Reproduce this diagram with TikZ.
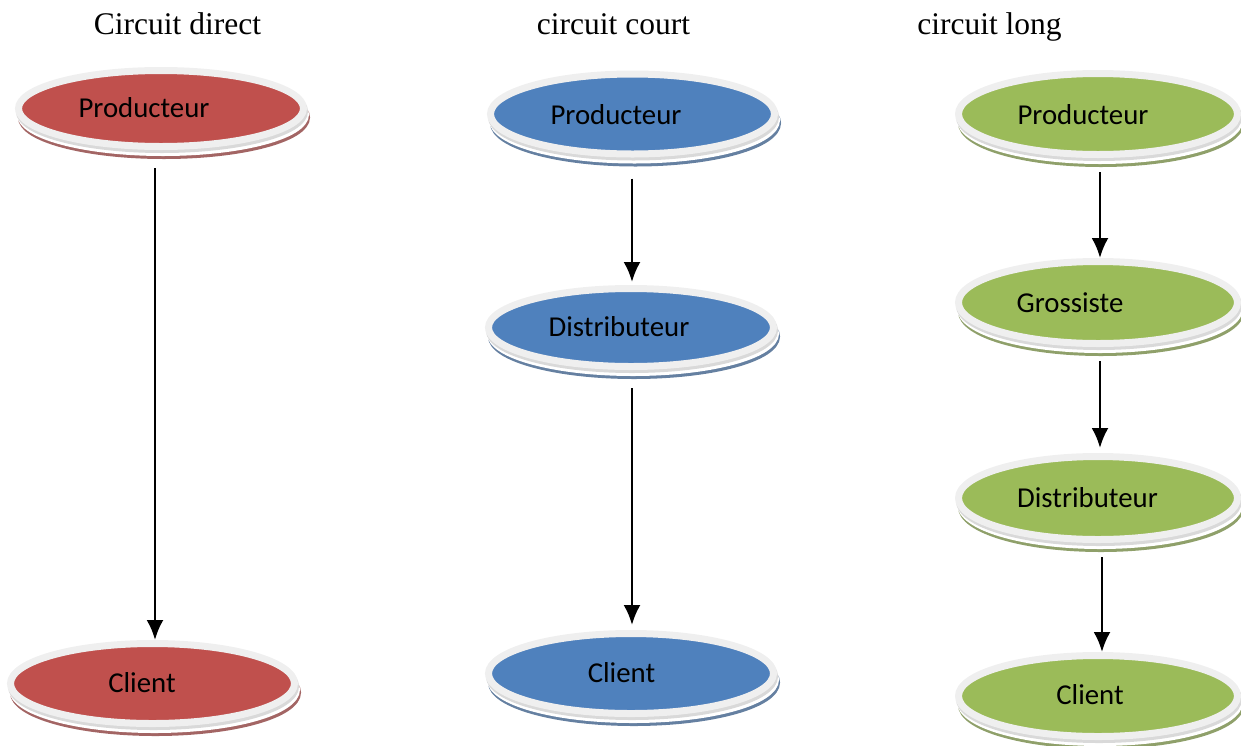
\documentclass[tikz,border=0pt]{standalone}
\usepackage{fontspec}
\setmainfont{Liberation Serif}
\newfontfamily\carlitofont{Carlito}
\usetikzlibrary{shapes.geometric,arrows.meta}
\definecolor{ringc}{HTML}{EFEFEF}
\definecolor{shadeg}{HTML}{D9D9D9}
\definecolor{redf}{HTML}{C0504D}
\definecolor{bluef}{HTML}{4F81BD}
\definecolor{greenf}{HTML}{9BBB59}
\tikzset{
  ell/.style={ellipse, inner sep=0pt, line width=7pt, draw=ringc, fill=#1,
    preaction={draw=#1!55!gray, fill=#1!55!gray, line width=7pt, transform canvas={xshift=3pt,yshift=-9pt}},
    preaction={draw=white, fill=white, line width=7pt, transform canvas={xshift=2pt,yshift=-6pt}},
    preaction={draw=shadeg, fill=shadeg, line width=7pt, transform canvas={xshift=1pt,yshift=-3pt}}},
  lab/.style={inner sep=0pt, font=\carlitofont\fontsize{28.8}{34}\selectfont},
  ttl/.style={inner sep=0pt, anchor=base, font=\fontsize{31.5}{38}\selectfont},
  arr/.style={line width=2.6pt, -{Latex[length=20pt,width=17pt]}}
}
\begin{document}
\begin{tikzpicture}[x=1pt,y=-1pt]
\useasboundingbox (0,0) rectangle (1241,745);
% titles
\node[ttl] (t1) at (177.5,34) {Circuit direct};
\node[ttl] (t2) at (613.5,34) {circuit court};
\node[ttl] (t3) at (989.5,34) {circuit long};
% red column
\node[ell=redf, minimum width=285pt, minimum height=76pt] (rp) at (161,108.5) {};
\node[ell=redf, minimum width=284pt, minimum height=80pt] (rc) at (152.5,683.5) {};
\node[lab] (rpt) at (144,108) {Producteur};
\node[lab] (rct) at (142,683) {Client};
% blue column
\node[ell=bluef, minimum width=284pt, minimum height=80pt] (bp) at (632.5,114) {};
\node[ell=bluef, minimum width=285pt, minimum height=78pt] (bd) at (631,327.5) {};
\node[ell=bluef, minimum width=285pt, minimum height=80pt] (bc) at (631,673.5) {};
\node[lab] (bpt) at (616,115) {Producteur};
\node[lab] (bdt) at (619,327) {Distributeur};
\node[lab] (bct) at (621.5,673) {Client};
% green column
\node[ell=greenf, minimum width=279pt, minimum height=81pt] (gp) at (1098,114) {};
\node[ell=greenf, minimum width=279pt, minimum height=82pt] (gg) at (1098,302.5) {};
\node[ell=greenf, minimum width=279pt, minimum height=83pt] (gd) at (1098,498) {};
\node[ell=greenf, minimum width=279pt, minimum height=81pt] (gc) at (1098,696) {};
\node[lab] (gpt) at (1083,115) {Producteur};
\node[lab] (ggt) at (1070,303) {Grossiste};
\node[lab] (gdt) at (1087.5,498) {Distributeur};
\node[lab] (gct) at (1090,695) {Client};
% arrow columns
\coordinate (ax1) at (155,0);
\coordinate (ax2) at (632,0);
\coordinate (ax3) at (1100,0);
\coordinate (ax4) at (1102,0);
\draw[arr, shorten <=18pt] (rp.south -| ax1) -- (rc.north -| ax1);
\draw[arr, shorten <=21pt, shorten >=3pt] (bp.south -| ax2) -- (bd.north -| ax2);
\draw[arr, shorten <=18pt, shorten >=5pt] (bd.south -| ax2) -- (bc.north -| ax2);
\draw[arr, shorten <=14pt] (gp.south -| ax3) -- (gg.north -| ax3);
\draw[arr, shorten <=14pt, shorten >=5pt] (gg.south -| ax3) -- (gd.north -| ax3);
\draw[arr, shorten <=14pt] (gd.south -| ax4) -- (gc.north -| ax4);
\end{tikzpicture}
\end{document}
